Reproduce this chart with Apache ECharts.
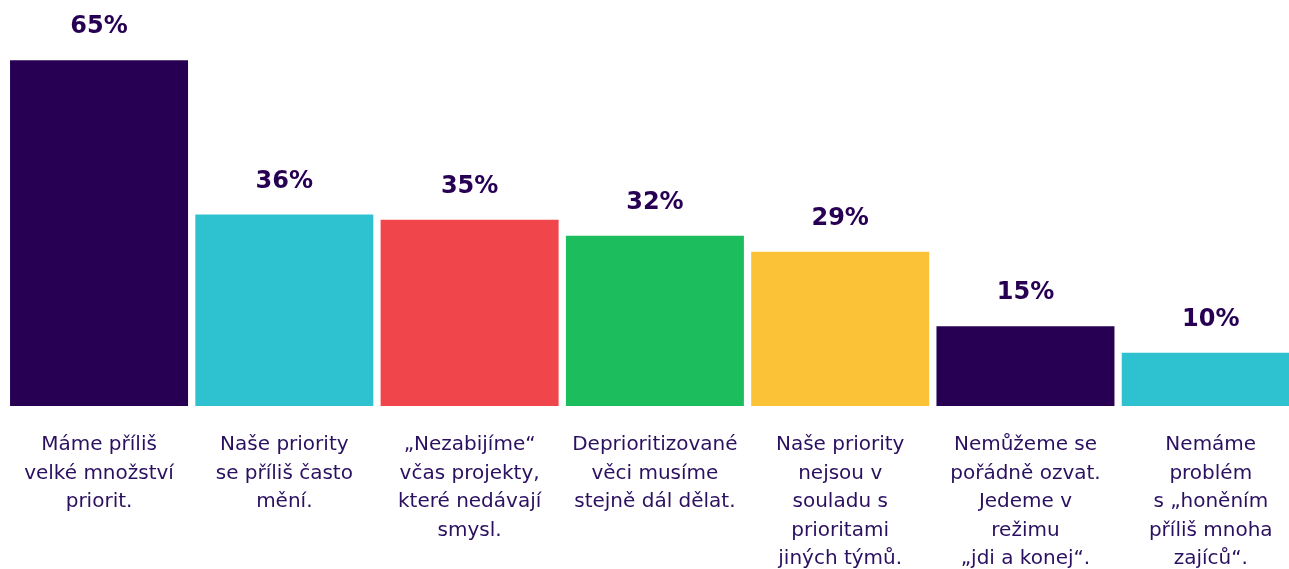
<!DOCTYPE html>
<html>
<head>
<meta charset="utf-8">
<script src="https://cdn.jsdelivr.net/npm/echarts@6/dist/echarts.min.js"></script>
<style>
  html, body { margin: 0; padding: 0; background: #fff; overflow: hidden; }
  #chart { width: 1289px; height: 569px; }
</style>
</head>
<body>
<div id="chart"></div>
<script>
// data
const categories = [
    'Máme příliš\nvelké množství\npriorit.',
    'Naše priority\nse příliš často\nmění.',
    '„Nezabijíme“\nvčas projekty,\nkteré nedávají\nsmysl.',
    'Deprioritizované\nvěci musíme\nstejně dál dělat.',
    'Naše priority\nnejsou v\nsouladu s\nprioritami\njiných týmů.',
    'Nemůžeme se\npořádně ozvat.\nJedeme v\nrežimu\n„jdi a konej“.',
    'Nemáme\nproblém\ns „honěním\npříliš mnoha\nzajíců“.'
];
const values = [65, 36, 35, 32, 29, 15, 10];
const barColors = ['#270054', '#2ec1cf', '#f0464b', '#1bbd5c', '#fbc137', '#270054', '#2ec1cf'];

const textColor = '#270054';
const fontFamily = '"DejaVu Sans", "Open Sans", sans-serif';

const chart = echarts.init(document.getElementById('chart'));

const option = {
    animation: false,
    grid: {
        left: 6.4,
        width: 1297,
        top: 33.6,
        bottom: 163,
        outerBoundsMode: 'none',
        containLabel: false
    },
    xAxis: {
        type: 'category',
        data: categories,
        axisLine: { show: false },
        axisTick: { show: false },
        axisLabel: {
            interval: 0,
            margin: 25,
            color: '#2b1060',
            fontFamily: fontFamily,
            fontSize: 20,
            lineHeight: 28.5,
            align: 'center'
        }
    },
    yAxis: {
        type: 'value',
        min: 0,
        max: 70,
        show: false,
        splitLine: { show: false }
    },
    series: [{
        type: 'bar',
        data: values.map((v, i) => ({ value: v, itemStyle: { color: barColors[i] } })),
        barWidth: 178,
        label: {
            show: true,
            position: 'top',
            distance: 21,
            formatter: '{c}%',
            color: textColor,
            fontFamily: fontFamily,
            fontWeight: 'bold',
            fontSize: 24
        }
    }]
};

chart.setOption(option);
</script>
</body>
</html>
